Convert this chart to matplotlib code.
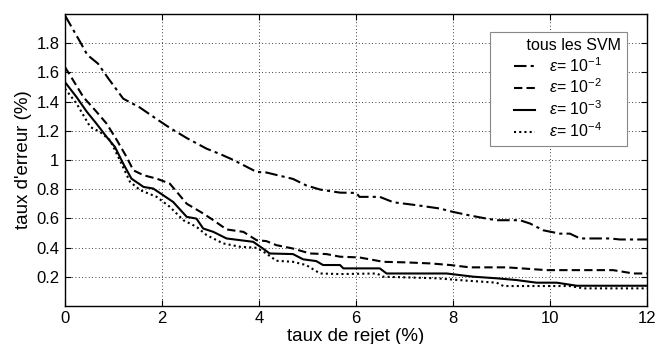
import numpy as np
import matplotlib.pyplot as plt

plt.rcParams['font.family'] = ['Liberation Sans', 'DejaVu Sans']
plt.rcParams['mathtext.fontset'] = 'custom'
plt.rcParams['mathtext.rm'] = 'Liberation Sans'
plt.rcParams['mathtext.it'] = 'Liberation Sans:italic'

# epsilon = 1e-1
x1 = [0, 0.31, 0.46, 0.68, 0.89, 1.2, 1.54, 1.89, 2.16, 2.51, 2.92, 3.2, 3.47, 3.95, 4.15, 4.7,
      4.97, 5.26, 5.67, 6.01, 6.07, 6.49, 6.77, 7.25, 7.73, 8.0, 8.34, 8.69, 8.9, 9.38, 9.59,
      9.86, 10.2, 10.41, 10.62, 11.24, 11.44, 12]
y1 = [1.99, 1.81, 1.72, 1.66, 1.56, 1.42, 1.36, 1.28, 1.22, 1.15, 1.077, 1.04, 1.0, 0.918, 0.914, 0.87,
      0.826, 0.797, 0.776, 0.774, 0.747, 0.747, 0.71, 0.69, 0.667, 0.644, 0.62, 0.598, 0.587, 0.587, 0.564,
      0.518, 0.495, 0.495, 0.462, 0.462, 0.455, 0.455]

# epsilon = 1e-2
x2 = [0, 0.17, 0.38, 0.65, 0.86, 1.07, 1.27, 1.41, 1.62, 1.89, 2.16, 2.51, 2.85, 3.06, 3.33, 3.68,
      3.95, 4.15, 4.36, 4.7, 5.05, 5.39, 5.67, 6.07, 6.56, 7.04, 7.53, 7.94, 8.35, 9.11, 9.93,
      11.3, 11.72, 12]
y2 = [1.636, 1.545, 1.43, 1.33, 1.248, 1.135, 1.02, 0.929, 0.895, 0.872, 0.838, 0.7, 0.633, 0.587, 0.524, 0.507,
      0.45, 0.444, 0.416, 0.393, 0.359, 0.355, 0.337, 0.332, 0.302, 0.298, 0.291, 0.28, 0.264, 0.264, 0.245,
      0.245, 0.222, 0.222]

# epsilon = 1e-3
x3 = [0, 0.24, 0.45, 0.65, 0.86, 1.03, 1.2, 1.37, 1.62, 1.82, 2.23, 2.51, 2.71, 2.85, 3.06, 3.33,
      3.88, 4.08, 4.22, 4.7, 4.91, 5.18, 5.32, 5.67, 5.74, 6.49, 6.63, 7.87, 8.42, 8.9, 9.31,
      9.72, 10.14, 10.55, 12]
y3 = [1.533, 1.43, 1.33, 1.248, 1.157, 1.089, 0.975, 0.872, 0.815, 0.804, 0.712, 0.61, 0.598, 0.53, 0.507, 0.462,
      0.439, 0.393, 0.359, 0.355, 0.319, 0.307, 0.28, 0.28, 0.257, 0.257, 0.222, 0.222, 0.2, 0.189, 0.177,
      0.159, 0.159, 0.138, 0.138]

# epsilon = 1e-4
x4 = [0, 0.24, 0.52, 0.72, 0.93, 1.13, 1.34, 1.55, 1.89, 2.16, 2.44, 2.71, 2.92, 3.26, 3.61, 3.95,
      4.15, 4.36, 4.7, 4.97, 5.26, 5.67, 6.43, 6.56, 7.66, 8.28, 8.9, 9.04, 10.41, 10.69, 12]
y4 = [1.488, 1.386, 1.226, 1.192, 1.135, 0.998, 0.85, 0.793, 0.747, 0.679, 0.587, 0.542, 0.485, 0.428, 0.405, 0.398,
      0.359, 0.309, 0.302, 0.28, 0.222, 0.218, 0.222, 0.2, 0.189, 0.173, 0.159, 0.136, 0.136, 0.12, 0.12]

labels = [r'$\varepsilon$= 10$^{\mathrm{-1}}$', r'$\varepsilon$= 10$^{\mathrm{-2}}$',
          r'$\varepsilon$= 10$^{\mathrm{-3}}$', r'$\varepsilon$= 10$^{\mathrm{-4}}$']
legend_title = 'tous les SVM'

fig = plt.figure(figsize=(6.68, 3.44), dpi=100)
ax = fig.add_axes([0.0973, 0.1108, 0.8713, 0.8485])

lw = 1.5
ax.plot(x1, y1, color='black', lw=lw, linestyle=(0, (6, 2, 1.5, 2)), label=labels[0])
ax.plot(x2, y2, color='black', lw=lw, linestyle=(0, (4, 2)), label=labels[1])
ax.plot(x3, y3, color='black', lw=lw, linestyle='-', label=labels[2])
ax.plot(x4, y4, color='black', lw=lw, linestyle=(0, (1, 1.5)), label=labels[3])

ax.set_xlim(0, 12)
ax.set_ylim(0, 2)
ax.set_xticks([0, 2, 4, 6, 8, 10, 12])
ax.set_yticks([0.2, 0.4, 0.6, 0.8, 1.0, 1.2, 1.4, 1.6, 1.8])
ax.set_yticklabels(['0.2', '0.4', '0.6', '0.8', '1', '1.2', '1.4', '1.6', '1.8'])
ax.tick_params(direction='in', top=True, right=True, labelsize=12, length=4, width=0.8, pad=4)
ax.grid(True, color='black', linestyle=(0, (1, 3)), linewidth=0.6)
for s in ax.spines.values():
    s.set_linewidth(1.0)

ax.set_xlabel('taux de rejet (%)', fontsize=13.5, labelpad=1)
ax.set_ylabel("taux d'erreur (%)", fontsize=13.5, labelpad=3)

leg = ax.legend(title='       ' + legend_title, loc='upper right', bbox_to_anchor=(0.9656, 0.938),
                fontsize=11.5, title_fontsize=11.5, handlelength=1.3, handletextpad=0.9,
                fancybox=False, framealpha=1, edgecolor='#888888', borderpad=0.35,
                borderaxespad=0, labelspacing=0.2)
leg.get_frame().set_linewidth(0.8)

fig.savefig('out.png', dpi=100)
